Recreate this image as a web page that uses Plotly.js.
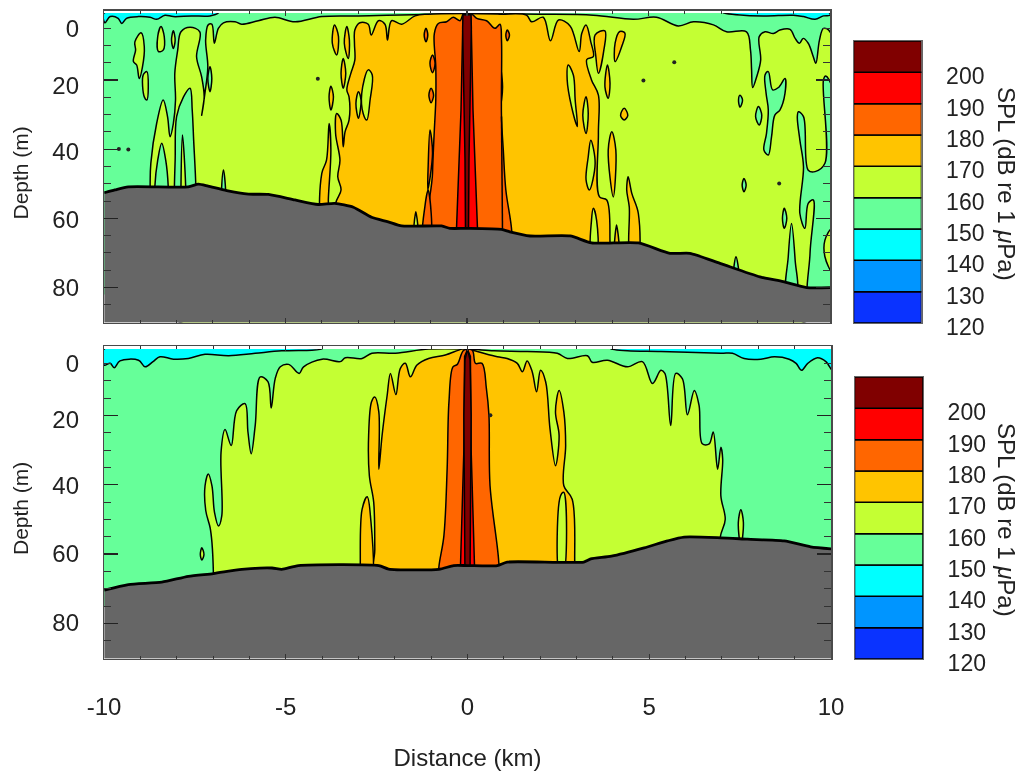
<!DOCTYPE html>
<html><head><meta charset="utf-8">
<script src="https://cdn.plot.ly/plotly-3.0.1.min.js"></script>
<style>html,body{margin:0;padding:0;background:#fff}#plot{width:1028px;height:772px;filter:blur(0.7px)}</style>
</head><body><div id="plot"></div>
<script>
// ---- band colours and colourbar ----
const levels=[120,130,140,150,160,170,180,190,200];
const bandColors=['#0a33ff','#0095ff','#00ffff','#66ff99','#c4ff33','#ffc400','#ff6600','#ff0000','#800000'];
const barLabels=['120','130','140','150','160','170','180','190','200'];
const C={blue:bandColors[0],az:bandColors[1],cy:bandColors[2],mi:bandColors[3],yg:bandColors[4],am:bandColors[5],or:bandColors[6],re:bandColors[7],da:bandColors[8]};
const GRAY='#666666';
// ---- top panel [km, depth m] ----
const tBathy=[[-9.99,52.6],[-9.7,51.8],[-9.33,50.9],[-7.68,50.9],[-7.4,50.1],[-7.13,50.7],[-6.62,52],[-6.02,53],[-5.47,53.1],[-4.74,54.7],[-4.1,56],[-3.64,55.7],[-3.13,56.8],[-2.63,59.7],[-2.17,61],[-1.8,62.2],[-0.7,62.2],[-0.47,62.9],[0,62.9],[0.95,63.2],[1.18,63.9],[1.74,65.1],[2.84,65.1],[3.43,67.1],[4.72,67.1],[5.59,70.1],[6.14,70.1],[6.97,73],[8.07,76.9],[8.71,78.3],[9.36,80],[10,80]];
const tCyanL=[[-10,0.7],[-9.97,3.5],[-9.83,1.7],[-9.61,2.2],[-9.51,3.7],[-9.38,2.2],[-9.05,1.7],[-8.73,1.9],[-8.55,2.5],[-8.32,1.3],[-8.09,1.7],[-7.59,1.5],[-7.08,1.5],[-6.85,0.7]];
const tCyanR=[[7.06,0.7],[7.7,1.4],[8.26,1.5],[8.99,1.3],[9.27,1.7],[9.59,2.5],[9.82,1.5],[10,1.3],[10,0.7]];
const tYG=[[-8.73,85],[-8.73,50.9],[-8.71,44.1],[-8.55,32.6],[-8.37,25.8],[-8.25,30.6],[-8.18,36.4],[-8.09,32.6],[-8.03,25.8],[-8.05,18.1],[-7.97,11.4],[-7.88,6.1],[-7.63,4.8],[-7.36,6.1],[-7.45,13.3],[-7.31,19.1],[-7.24,24.9],[-7.31,30.2],[-7.22,23.9],[-7.14,16.2],[-7.2,8.5],[-7.13,4.1],[-7.03,3.9],[-6.96,9.4],[-6.85,5.1],[-6.71,3.5],[-6.39,3.2],[-6.21,3.9],[-5.75,2.9],[-5.29,1.9],[-4.74,3.2],[-4,1.7],[-3,1.5],[0,0.9],[2,1],[3.48,1.3],[4.58,2.5],[5.22,1.9],[5.82,4.4],[6.24,3.2],[6.79,4.1],[7.15,6.1],[7.7,6.1],[7.81,11.4],[7.84,17.1],[7.87,22.2],[7.98,19.1],[8.09,14.3],[8.05,7.5],[8.21,6.1],[8.44,6.6],[8.62,5.6],[8.9,5.4],[9.04,8],[9.16,9.4],[9.26,8],[9.4,9.4],[9.54,13.3],[9.61,15.2],[9.71,8.5],[9.82,5.1],[10,6.1],[10,85]];
const tMint=[
[[-8.6,50.9],[-8.52,43.2],[-8.41,38.3],[-8.3,43.2],[-8.23,50.9],[-8.23,60],[-8.6,60]],
[[-8.06,60],[-8.06,50.9],[-8.04,43.2],[-8,30.6],[-7.81,24.9],[-7.63,22.4],[-7.57,28.7],[-7.53,37.4],[-7.47,50.9],[-7.47,60]],
[[-6.76,51.3],[-6.71,46],[-6.65,51.8],[-6.65,60],[-6.76,60]],
[[-7.08,16.2],[-7.03,19.6],[-7.08,23.4],[-7.14,19.6]],
[[8.21,18.6],[8.3,17.6],[8.42,22.9],[8.58,22.2],[8.76,19.6],[8.76,23.9],[8.62,28.7],[8.48,30.2],[8.39,36.4],[8.3,41.7],[8.18,40.3],[8.25,35.5],[8.3,28.7],[8.24,23.9]],
[[8.03,27.7],[8.12,30.2],[8.05,33],[7.95,30.6]],
[[7.52,24.4],[7.59,25.8],[7.52,27.9],[7.48,25.8]],
[[7.63,48.5],[7.69,50.4],[7.63,52.3],[7.58,50.4]],
[[8.74,57.1],[8.81,60],[8.74,62.9],[8.69,60]],
[[9.13,29.2],[9.27,30.6],[9.4,46.1],[9.59,46.5],[9.86,44.1],[9.82,20],[9.88,18.9],[10.05,22],[10.05,85],[9.45,85],[9.45,70.1],[9.54,54.7],[9.4,55.7],[9.31,62.9],[9.17,58.6],[9.27,45.1],[9.17,37.4],[9.1,30.6]],
[[8.94,61.5],[9.04,72.1],[9.08,82],[8.81,82],[8.85,71.1]],
[[7.41,71.1],[7.47,76],[7.36,76]]];
const tYGIslets=[
[[-7.88,60],[-7.88,50.9],[-7.84,35.9],[-7.75,50.9],[-7.75,60]],
[[-9.15,9],[-8.98,6.4],[-8.89,10.4],[-8.94,16.2],[-9.03,19.6],[-9.1,15.7],[-9.19,14.7],[-9.13,11.4]],
[[-8.92,18.6],[-8.82,17.6],[-8.78,22],[-8.82,25.8],[-8.89,24.9]],
[[-8.43,4.6],[-8.34,7.5],[-8.37,11.4],[-8.5,11.8],[-8.52,7.5]],
[[-8.09,5.8],[-8.04,8.5],[-8.09,10.9],[-8.14,8.5]],
[[10.05,62.9],[9.86,66.3],[9.86,71.1],[10.05,75.4]]];
const tAmber=[[-3.62,72],[-3.62,55.7],[-3.47,51.8],[-3.56,48],[-3.5,43.2],[-3.62,35.5],[-3.59,29.7],[-3.47,31.6],[-3.41,39.3],[-3.36,35],[-3.25,31.6],[-3.25,24.9],[-3.31,22.9],[-3.2,18.1],[-3.09,14.3],[-3.1,9.4],[-3.09,5.6],[-2.95,3.5],[-2.72,3.9],[-2.64,7],[-2.44,2.9],[-2.26,3.9],[-2.19,8.5],[-2.08,2.9],[-1.8,3.9],[-1.43,1.5],[-1.07,1],[0,0.8],[0.91,1],[1.64,1.3],[1.78,3.2],[2.1,1.9],[2.3,8.7],[2.52,2.7],[2.84,4.4],[3.09,11.8],[3.16,6.6],[3.28,4.1],[3.41,9],[3.48,13.3],[3.3,14.1],[3.43,20],[3.62,24.4],[3.62,35.5],[3.65,53.8],[3.85,54.7],[3.94,66.8],[3.94,72]];
const tAmberIslets=[
[[3.53,7],[3.8,5.8],[3.77,11.4],[3.62,18.1],[3.55,13.3]],
[[4.21,6],[4.35,6.5],[4.26,10.4],[4.08,14.7],[4.08,9.4]],
[[3.87,15.7],[3.94,21],[3.89,25.3],[3.8,22]],
[[4.33,28.2],[4.43,30.2],[4.33,31.6],[4.23,30.2]],
[[3.99,35],[4.1,40.3],[4.03,53.8],[3.89,40.3]],
[[4.44,48],[4.54,52.8],[4.72,58.6],[4.69,72],[4.51,72],[4.47,56.7],[4.4,51.8]],
[[4.12,61.9],[4.18,72],[4.08,72]],
[[-3.65,4.1],[-3.54,7.5],[-3.59,12.8],[-3.71,9.4]],
[[-3.31,4.6],[-3.24,8.5],[-3.27,13.8],[-3.38,9.4]],
[[-3.41,13.8],[-3.34,18.1],[-3.41,22.4],[-3.47,18.1]],
[[-3.75,21.8],[-3.68,24.9],[-3.75,28.7],[-3.8,24.9]],
[[-4,60],[-4,47],[-3.87,43.2],[-3.8,32.6],[-3.75,40.3],[-3.82,54.7],[-3.82,60]],
[[0.86,12.8],[0.98,22],[0.91,27.7],[0.84,22]]];
const tYGInAmber=[
[[2.79,15.7],[2.93,18.6],[2.98,25.8],[3.04,33.5],[2.88,27.7],[2.76,20]],
[[3.28,24.9],[3.34,29.7],[3.28,35.5],[3.19,30.2]],
[[3.41,37.4],[3.53,44.1],[3.37,51.8],[3.28,48.9],[3.34,42.2]],
[[3.48,57.1],[3.57,60.5],[3.57,70],[3.43,70],[3.43,60.5]],
[[-2.72,17.1],[-2.61,18.6],[-2.67,25.8],[-2.76,31.6],[-2.86,29.7],[-2.9,23.9]],
[[-2.99,23.4],[-2.92,25.8],[-2.99,31.1],[-3.06,26.8]],
[[-1.41,58.1],[-1.36,66],[-1.45,66]]];
const tOrange=[[-0.97,70],[-0.95,47],[-0.9,34.5],[-0.86,25.8],[-0.86,16.2],[-0.9,6.6],[-0.79,3.7],[-0.56,3.2],[-0.38,1.9],[-0.19,2.9],[-0.1,1],[0.13,1],[0.27,2.2],[0.54,2.9],[0.77,5.1],[0.91,3.9],[0.95,8.5],[0.95,30.6],[1,40.3],[1.07,51.8],[1.23,63.4],[1.23,70]];
const tOrangeIslets=[
[[1.11,5.6],[1.17,7],[1.11,8.7],[1.07,7]],
[[-1.13,5.1],[-1.08,7],[-1.13,9],[-1.18,7]],
[[-0.95,12.8],[-0.88,15.2],[-0.95,17.9],[-1.02,15.2]],
[[-0.99,22.4],[-0.92,24.4],[-0.99,26.6],[-1.05,24.4]],
[[-1.02,34.5],[-0.95,41.2],[-1.08,51.8],[-1.07,45]],
[[-1.07,51.8],[-1.02,66],[-1.2,66],[-1.16,56.6]]];
const tRed=[[-0.3,66],[-0.165,28.7],[-0.12,6],[-0.1,1.2],[0.1,1.2],[0.12,6],[0.165,28.7],[0.3,66]];
const tDark=[[-0.04,66],[-0.055,43],[-0.12,5],[-0.11,1.2],[0.11,1.2],[0.12,5],[0.055,43],[0.04,66]];
const tLine=[[0.95,30.6],[0.98,66]];
const tDots=[[-9.59,40],[-9.33,40.1],[-4.11,19.7],[5.71,14.9],[4.86,20.2],[8.6,49.9]];
// ---- bottom panel [km, depth m] ----
const bBathy=[[-9.99,70.4],[-9.33,68.8],[-8.41,68.1],[-7.68,66.4],[-6.99,65.6],[-6.21,64.4],[-5.38,64],[-5.11,64.4],[-4.65,63.3],[-2.44,63.3],[-2.17,64.3],[-0.79,64.4],[-0.38,63.3],[0,63.3],[0.82,63.3],[1.09,62.3],[3.2,62.3],[3.39,61.4],[3.96,60.6],[4.86,58.2],[5.5,56.2],[5.96,55.1],[6.97,55.3],[7.7,55.7],[8.71,56.2],[9.44,57.9],[10.03,58.5]];
const bCyanL=[[-10,0.9],[-10,5.5],[-9.83,5],[-9.72,6.3],[-9.56,4.3],[-9.05,4.1],[-8.87,6],[-8.65,4.5],[-8.46,3.1],[-8.09,3.8],[-7.68,3.6],[-7.22,2.4],[-6.57,2.8],[-5.84,2.1],[-5.11,1.4],[-4.28,1.2],[-4,0.9]];
const bCyanR=[[3.94,0.9],[4.4,1.4],[5.32,1.6],[6.97,2.1],[7.29,2.1],[7.61,3.6],[8.07,3.8],[8.44,3.1],[8.85,3.8],[9.04,5],[9.19,7],[9.36,5],[9.63,3.4],[9.86,4.5],[10.05,7.2],[10.05,0.9]];
const bYG=[[-6.99,72],[-6.99,65.6],[-7.03,56.7],[-7.08,52.4],[-7.2,47.5],[-7.22,40.3],[-7.13,36.9],[-7.03,40.3],[-6.96,48],[-6.85,51.9],[-6.76,49],[-6.78,30.6],[-6.67,24.1],[-6.5,28.7],[-6.35,18.6],[-6.12,16.6],[-6.04,24.8],[-5.95,31.1],[-5.84,22.9],[-5.7,8.9],[-5.49,10.3],[-5.4,17.9],[-5.29,9.4],[-5.15,6],[-4.92,5.3],[-4.63,7.9],[-4.51,6],[-4,3.8],[-3.5,4.5],[-3.36,3.4],[-2.9,3.6],[-2.63,2.1],[-1.98,2.1],[-1.07,0.9],[0,0.9],[0.73,1.4],[1.64,1.6],[2.47,2.1],[2.75,3.6],[3.3,2.8],[3.43,4.7],[3.85,4.1],[4.4,6],[4.81,4.5],[5.09,10.8],[5.32,7],[5.43,7.9],[5.59,22.9],[5.73,7.9],[5.91,9.4],[6.05,19.8],[6.24,12.8],[6.37,17.1],[6.46,28.2],[6.65,28.2],[6.76,24.8],[6.88,35.5],[6.97,29.2],[7.02,32.6],[6.97,43.2],[7.09,50],[6.95,55.3],[6.95,72]];
const bYGIslets=[
[[-7.31,58.2],[-7.25,60.1],[-7.31,61.7],[-7.35,60.1]],
[[7.52,47.2],[7.59,50.9],[7.52,58],[7.45,50.9]]];
const bAmber=[[-2.55,72],[-2.55,58.6],[-2.58,45.1],[-2.7,37.4],[-2.72,25.8],[-2.64,16.1],[-2.55,14.7],[-2.44,19],[-2.44,35.5],[-2.35,25.8],[-2.21,14.2],[-2.12,7.9],[-1.97,14],[-1.85,6.5],[-1.71,5],[-1.57,8.9],[-1.39,5.5],[-1.07,3.6],[-0.61,2.6],[-0.15,0.9],[0,0.9],[0.27,1.6],[0.82,3.1],[1.09,3.6],[1.37,5],[1.51,7.4],[1.64,4.3],[1.78,7.4],[1.9,13.2],[2.01,7],[2.15,10.3],[2.27,23.9],[2.42,34.5],[2.52,25.8],[2.42,19],[2.52,12.8],[2.65,19],[2.7,28.7],[2.65,40.3],[2.88,44.2],[2.95,62.3],[2.95,70]];
const bAmberIslet=[[-2.95,70],[-2.95,63.4],[-2.9,47.1],[-2.76,43.5],[-2.67,49],[-2.67,70]];
const bYGInAmber=[[2.54,66],[2.56,43.2],[2.65,42.2],[2.63,66]];
const bOrange=[[-0.79,70],[-0.79,64],[-0.65,54.8],[-0.56,35.5],[-0.51,16.1],[-0.4,6],[-0.28,5.3],[-0.1,1.2],[0.13,1.2],[0.22,5],[0.4,5],[0.52,12.3],[0.59,20],[0.62,40.3],[0.86,62.3],[0.86,70]];
const bRed=[[-0.2,66],[-0.1,30],[-0.08,3],[0,1],[0.08,3],[0.1,30],[0.2,66]];
const bDark=[[-0.07,66],[-0.1,20],[-0.07,4],[0,0.9],[0.07,4],[0.1,20],[0.07,66]];
const bDots=[[0.63,20]];
// ---- axis text ----
const depthLabels=['0','20','40','60','80'];
const tLabelPos=[5.3,21.5,40.8,60.5,80.1];
const bLabelPos=[5.2,21.3,40.3,59.9,79.8];
const depthTicks=[0,20,40,60,80];
const distTicks=[-10,-5,0,5,10];

const traces=[];
function poly(pts,color,xa,ya,straight){
  const p=pts.concat([pts[0]]);
  traces.push({type:'scatter',mode:'lines',x:p.map(q=>q[0]),y:p.map(q=>q[1]),xaxis:xa,yaxis:ya,fill:'toself',fillcolor:color,line:straight?{color:'#000',width:1.5}:{color:'#000',width:1.5,shape:'spline',smoothing:1},hoverinfo:'skip'});
}
function rect(x0,x1,d0,d1,color,xa,ya){
  traces.push({type:'scatter',mode:'lines',x:[x0,x1,x1,x0,x0],y:[d0,d0,d1,d1,d0],xaxis:xa,yaxis:ya,fill:'toself',fillcolor:color,line:{width:0,color:color},hoverinfo:'skip'});
}
function bathy(pts,xa,ya,yBot){
  const xs=pts.map(q=>q[0]),ys=pts.map(q=>q[1]);
  traces.push({type:'scatter',mode:'lines',x:xs.concat([xs[xs.length-1],xs[0],xs[0]]),y:ys.concat([yBot,yBot,ys[0]]),xaxis:xa,yaxis:ya,fill:'toself',fillcolor:GRAY,line:{width:0,color:GRAY},hoverinfo:'skip'});
  traces.push({type:'scatter',mode:'lines',x:xs,y:ys,xaxis:xa,yaxis:ya,line:{color:'#000',width:2.8,shape:'spline',smoothing:0.6},hoverinfo:'skip'});
}
function dots(pts,xa,ya){traces.push({type:'scatter',mode:'markers',x:pts.map(q=>q[0]),y:pts.map(q=>q[1]),xaxis:xa,yaxis:ya,marker:{color:'#222',size:4},hoverinfo:'skip'});}
function open(pts,xa,ya){traces.push({type:'scatter',mode:'lines',x:pts.map(q=>q[0]),y:pts.map(q=>q[1]),xaxis:xa,yaxis:ya,line:{color:'#000',width:1.5},hoverinfo:'skip'});}

// top panel
rect(-10.1,10.1,0.7,82,C.mi,'x','y');
poly(tCyanL,C.cy,'x','y');poly(tCyanR,C.cy,'x','y');
poly(tYG,C.yg,'x','y');
tMint.forEach(p=>poly(p,C.mi,'x','y'));
tYGIslets.forEach(p=>poly(p,C.yg,'x','y'));
poly(tAmber,C.am,'x','y');
tYGInAmber.forEach(p=>poly(p,C.yg,'x','y'));
tAmberIslets.forEach(p=>poly(p,C.am,'x','y'));
poly(tOrange,C.or,'x','y');
tOrangeIslets.forEach(p=>poly(p,C.or,'x','y'));
open(tLine,'x','y');
poly(tRed,C.re,'x','y',true);
poly(tDark,C.da,'x','y',true);
dots(tDots,'x','y');
bathy(tBathy,'x','y',90.2);
rect(-10.1,10.1,0,0.7,'#ffffff','x','y');
// bottom panel
rect(-10.1,10.1,0.9,75,C.mi,'x2','y2');
poly(bCyanL,C.cy,'x2','y2');poly(bCyanR,C.cy,'x2','y2');
poly(bYG,C.yg,'x2','y2');
bYGIslets.forEach(p=>poly(p,C.yg,'x2','y2'));
poly(bAmber,C.am,'x2','y2');
poly(bYGInAmber,C.yg,'x2','y2');
poly(bAmberIslet,C.am,'x2','y2');
poly(bOrange,C.or,'x2','y2');
poly(bRed,C.re,'x2','y2',true);
poly(bDark,C.da,'x2','y2',true);
dots(bDots,'x2','y2');
bathy(bBathy,'x2','y2',90.2);
rect(-10.1,10.1,0,0.9,'#ffffff','x2','y2');
// label axes need a trace
traces.push({type:'scatter',mode:'none',x:[0],y:[0],xaxis:'x',yaxis:'y3',hoverinfo:'skip'});
traces.push({type:'scatter',mode:'none',x:[0],y:[0],xaxis:'x2',yaxis:'y4',hoverinfo:'skip'});
// colour bars
['3','4'].forEach((n,i)=>{
  traces.push({type:'bar',x:levels.map(()=>0),y:levels.map(()=>10),base:levels,width:1,marker:{color:bandColors,line:{color:'#000',width:1.5}},xaxis:'x'+n,yaxis:'y'+(n==='3'?'5':'6'),hoverinfo:'skip'});
});

const W=1028,H=772;
const dx=(a,b)=>[a/W,b/W], dy=(t,b)=>[1-b/H,1-t/H];
const FONT='Liberation Sans, Arial, sans-serif', TXT='#222';
const frame={showline:true,linecolor:'#4a4a4a',linewidth:1.5,mirror:true,showgrid:false,zeroline:false};
function xAxis(dom,anchor,labels){return Object.assign({},frame,{domain:dx(dom[0],dom[1]),anchor:anchor,range:[-10,10],tickmode:'array',tickvals:distTicks,ticktext:distTicks.map(String),ticks:'inside',ticklen:5,tickwidth:1.2,tickcolor:'#333',mirror:'ticks',minor:{dtick:1,ticks:'inside',ticklen:3,tickwidth:1,tickcolor:'#333',showgrid:false},showticklabels:labels,tickfont:{family:FONT,size:24,color:TXT},ticklabelstandoff:labels?26:0});}
function yAxis(dom,anchor){return Object.assign({},frame,{domain:dy(dom[0],dom[1]),anchor:anchor,range:[90.1,0],tickmode:'array',tickvals:depthTicks,ticks:'inside',ticklen:14,tickwidth:1.2,tickcolor:'#222',mirror:'ticks',minor:{dtick:5,ticks:'inside',ticklen:7,tickwidth:1,tickcolor:'#333',showgrid:false},showticklabels:false});}
function yLabels(dom,anchor,over,pos){return {domain:dy(dom[0],dom[1]),anchor:anchor,overlaying:over,range:[90.1,0],tickmode:'array',tickvals:pos,ticktext:depthLabels,ticks:'',showgrid:false,zeroline:false,showline:false,tickfont:{family:FONT,size:24,color:TXT},ticklabelstandoff:24};}
function barX(dom,anchor){return {domain:dx(dom[0],dom[1]),anchor:anchor,range:[-0.5,0.5],showticklabels:false,ticks:'',showgrid:false,zeroline:false,showline:true,linecolor:'#666',linewidth:1,mirror:true,fixedrange:true};}
function barY(dom,anchor){return {domain:dy(dom[0],dom[1]),anchor:anchor,side:'right',range:[120,210],tickmode:'array',tickvals:levels,ticktext:barLabels,ticks:'',showgrid:false,zeroline:false,showline:true,linecolor:'#666',linewidth:1,mirror:true,tickfont:{family:FONT,size:23,color:TXT},ticklabelstandoff:19,ticklabelshift:4};}
function note(text,px,py,angle,size){return {text:text,xref:'paper',yref:'paper',x:px/W,y:1-py/H,xanchor:'center',yanchor:'middle',textangle:angle,showarrow:false,font:{family:FONT,size:size,color:TXT}};}
const layout={width:W,height:H,paper_bgcolor:'#fff',plot_bgcolor:'#fff',showlegend:false,barmode:'overlay',margin:{l:0,r:0,t:0,b:0},
  xaxis:xAxis([104,830],'y',false),yaxis:yAxis([10.7,322.5],'x'),
  xaxis2:Object.assign(xAxis([104,831],'y2',true),{title:{text:'Distance (km)',font:{family:FONT,size:24,color:TXT},standoff:30}}),yaxis2:yAxis([346,658.5],'x2'),
  yaxis3:yLabels([10.7,322.5],'x','y',tLabelPos),yaxis4:yLabels([346,658.5],'x2','y2',bLabelPos),
  xaxis3:barX([853.5,921.5],'y5'),yaxis5:barY([41,323],'x3'),
  xaxis4:barX([854.5,923],'y6'),yaxis6:barY([377,659],'x4'),
  annotations:[note('Depth (m)',20,173.5,-90,21),note('Depth (m)',20,509,-90,21),
    note('SPL (dB re 1 <i>μ</i>Pa)',1006,184,90,24),note('SPL (dB re 1 <i>μ</i>Pa)',1007,520,90,24)]};
Plotly.newPlot('plot',traces,layout,{staticPlot:true,displayModeBar:false});
</script></body></html>
